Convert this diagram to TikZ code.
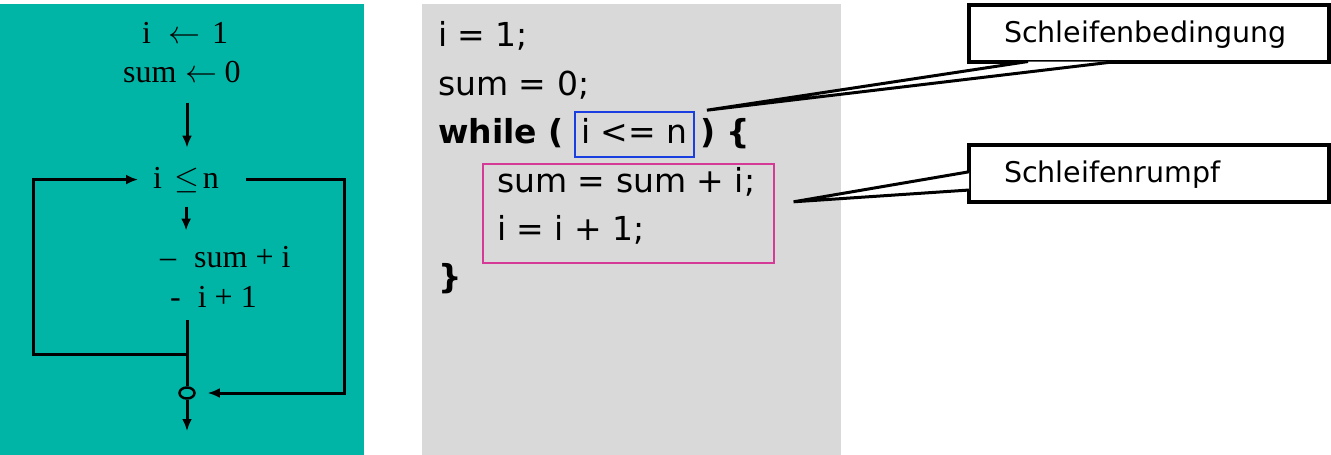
\RequirePackage{fix-cm}
\documentclass[tikz,border=0pt]{standalone}
\usepackage{fontspec}
\setmainfont{DejaVu Sans}
\newfontfamily\flowfont{Liberation Serif}
\usetikzlibrary{arrows.meta,positioning,calc,shapes.geometric}
\definecolor{panel}{HTML}{00B5A5}
\definecolor{codebg}{HTML}{D9D9D9}
\definecolor{condcol}{HTML}{1A3FE0}
\definecolor{bodycol}{HTML}{D63A97}
\definecolor{ink}{HTML}{000000}
\tikzset{
  >={Latex[length=12pt,width=10pt]},
  flowtext/.style={font=\flowfont\fontsize{32}{40}\selectfont,inner sep=0pt,text=ink},
  code/.style={font=\fontsize{33}{48}\selectfont,inner sep=0pt,anchor=base west,text=ink},
  codebold/.style={code,font=\fontsize{33}{48}\selectfont\bfseries},
  flow/.style={line width=3pt,draw=ink},
  arrow/.style={flow,->},
  condbox/.style={code,draw=condcol,line width=1.6pt,inner xsep=6.5pt,inner ysep=7pt,text height=24pt,text depth=7pt},
  bodybox/.style={draw=bodycol,line width=1.6pt,anchor=north west,minimum width=291pt,minimum height=99pt,inner sep=0pt},
  callout/.style={draw=ink,line width=4pt,fill=white,outer sep=0pt,minimum width=360pt,minimum height=57pt,
    text width=290pt,align=left,inner xsep=35pt,text height=21pt,text depth=3pt,font=\fontsize{28.5}{32}\selectfont},
  wedge/.style={draw=ink,line width=3pt,fill=white,line join=miter},
}
\begin{document}
\begin{tikzpicture}[x=1pt,y=-1pt]
\useasboundingbox (0,0) rectangle (1331,455);
\fill[panel] (0,4) rectangle (364,455);
\fill[codebg] (422,4) rectangle (841,455);

% Ablaufdiagramm
\node[flowtext,anchor=base west] (init1) at (142,43) {i\hspace{17pt}$\leftarrow$\hspace{12pt}1};
\node[flowtext,anchor=base west] (init2) at (123,82) {sum\hspace{9pt}$\leftarrow$\hspace{7pt}0};
\node[flowtext,anchor=base west] (cond) at (153,188) {i\hspace{12pt}$\le$\hspace{4pt}n};
\node[flowtext,anchor=base west] (body1) at (160,267) {–\hspace{18pt}sum + i};
\node[flowtext,anchor=base west] (body2) at (170,307) {-\hspace{17pt}i + 1};
\node[ellipse,draw=ink,line width=2.5pt,minimum width=15pt,minimum height=11pt,inner sep=0pt] (junc) at (187,393) {};
\coordinate (split) at (187,354);
\coordinate (loopL) at (33,354);
\coordinate (loopR) at (344,174);
\coordinate (out) at (187,431);

\draw[arrow,shorten <=20pt,shorten >=19pt] (init2.south -| junc) -- (junc |- cond.north);
\draw[arrow,shorten <=14pt,shorten >=15pt] (cond.south) -- (cond.south |- body1.north);
\draw[flow,shorten <=13pt] (junc.north |- body2.south) -- (junc.north);
\draw[arrow,shorten >=15pt] (split) -- (loopL) |- (cond.west);
\draw[arrow,shorten <=27pt,shorten >=12pt] (cond.east) -- (cond.east -| loopR) |- (junc.east);
\draw[arrow] (junc.south) -- (out);

% Programmcode
\node[code] (line1) at (438,46) {i = 1;};
\node[code] (line2) at (438,95) {sum = 0;};
\node[codebold] (kw) at (438,143) {while (};
\node[condbox,base right=10pt of kw] (condexpr) {i <= n};
\node[codebold,base right=5pt of condexpr] (open) {) \{};
\node[bodybox] (body) at (482,163) {};
\node[code] (sumline) at (497,192) {sum = sum + i;};
\node[code] (incline) at (497,240) {i = i + 1;};
\node[codebold] (close) at (438,288) {\}};

% Beschriftungen
\node[callout] (bed) at (1149,33) {Schleifenbedingung};
\node[callout] (rumpf) at (1149,173.5) {Schleifenrumpf};
\coordinate (bedtip) at ($(condexpr.north east)+(12,-1)$);
\coordinate (rumpftip) at ($(body.east)+(19,-11.5)$);
\filldraw[wedge] ($(bed.south west)!0.164!(bed.south east)$) -- (bedtip) -- ($(bed.south west)!0.41!(bed.south east)$);
\filldraw[wedge] ($(rumpf.south west)!0.53!(rumpf.north west)$) -- (rumpftip) -- ($(rumpf.south west)!0.21!(rumpf.north west)$);
\end{tikzpicture}
\end{document}
